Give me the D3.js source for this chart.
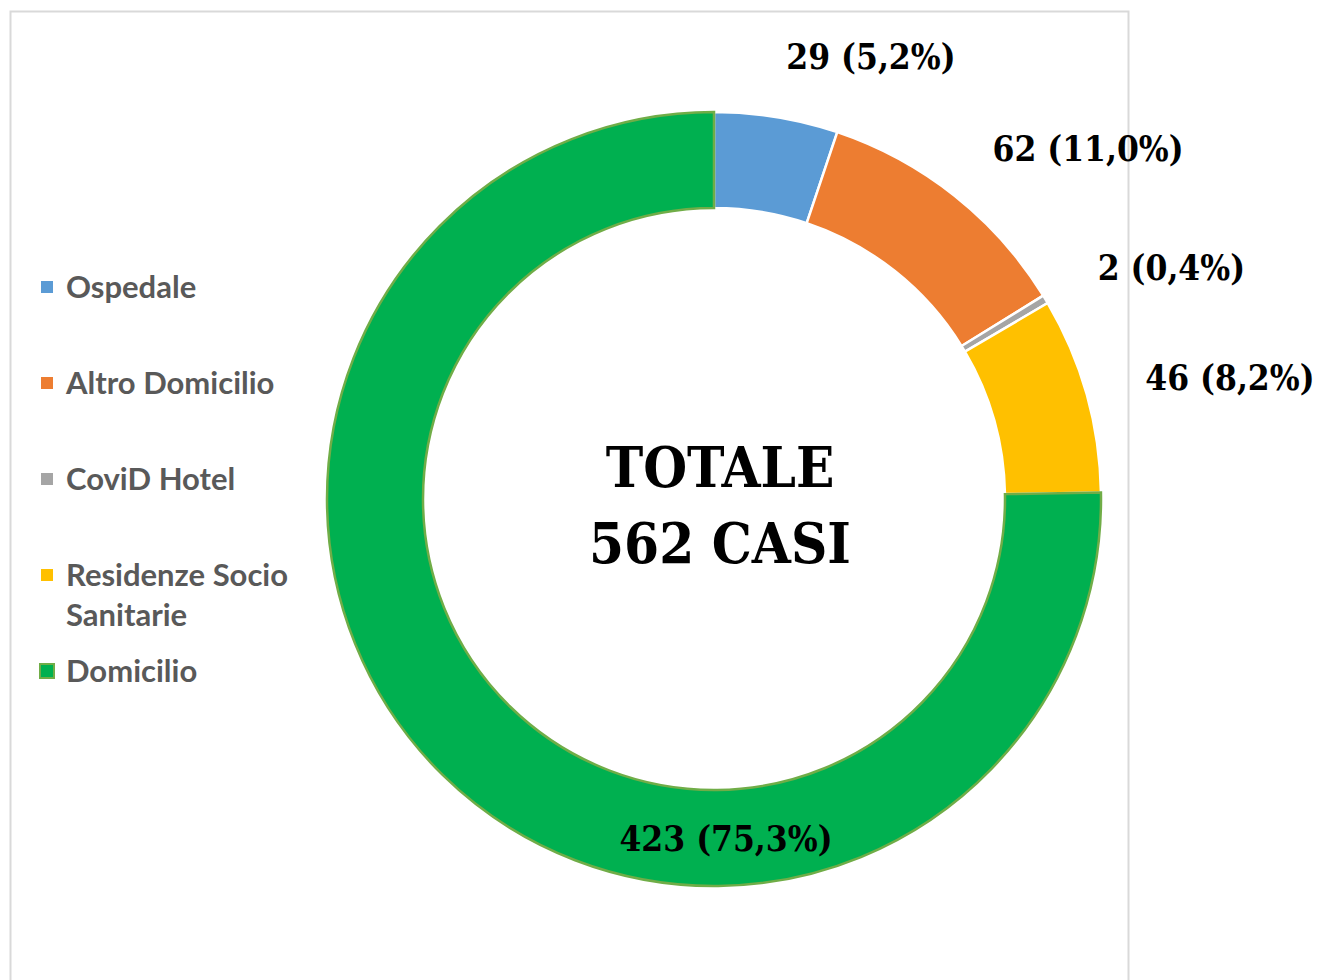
<!DOCTYPE html>
<html>
<head>
<meta charset="utf-8">
<script src="https://cdn.jsdelivr.net/npm/d3@7"></script>
<style>
  body { margin: 0; background: #fff; }
  .lbl { font-family: "DejaVu Serif Condensed", "DejaVu Serif", serif; font-weight: bold; fill: #000; }
  .leg { font-family: Lato, "Open Sans", sans-serif; font-weight: bold; fill: #595959; }
</style>
</head>
<body>
<svg id="chart" width="1329" height="980"></svg>
<script>
// data
var categories = ["Ospedale", "Altro Domicilio", "CoviD Hotel", "Residenze Socio Sanitarie", "Domicilio"];
var counts = [29, 62, 2, 46, 423];
var percents = ["5,2%", "11,0%", "0,4%", "8,2%", "75,3%"];
var colors = ["#5b9bd5", "#ed7d31", "#a5a5a5", "#ffc000", "#00b050"];
var totalLines = ["TOTALE", "562 CASI"];

var svg = d3.select("#chart");
var cx = 714, cy = 499,
    outerR = 387, innerR = 291;

// outer chart frame
svg.append("rect")
    .attr("x", 10.5).attr("y", 11.5)
    .attr("width", 1118).attr("height", 1000)
    .attr("fill", "none")
    .attr("stroke", "#d9d9d9")
    .attr("stroke-width", 2);

var data = categories.map(function(c, i) {
  return {name: c, value: counts[i], pct: percents[i], color: colors[i]};
});

var pie = d3.pie().sort(null).value(function(d) { return d.value; });
var arc = d3.arc().innerRadius(innerR).outerRadius(outerR);
var arcs = pie(data);

var g = svg.append("g").attr("transform", "translate(" + cx + "," + cy + ")");

// slices
g.selectAll("path.slice")
    .data(arcs)
  .enter().append("path")
    .attr("class", "slice")
    .attr("d", arc)
    .attr("fill", function(d) { return d.data.color; })
    .attr("stroke", function(d) { return d.data.name === "Domicilio" ? "#70ad47" : "#fff"; })
    .attr("stroke-width", 2.5)
    .attr("stroke-linejoin", "miter");

// labels: small slices outside (left anchored), big slice inside the ring at bottom
var outLabelArc = d3.arc().innerRadius(448).outerRadius(448);
var maxVal = d3.max(counts);
arcs.forEach(function(d) {
  var txt = d.data.value + " (" + d.data.pct + ")";
  var pos, anchor;
  if (d.data.value === maxVal) {
    pos = [12, (innerR + outerR) / 2];
    anchor = "middle";
  } else {
    pos = outLabelArc.centroid(d);
    anchor = "start";
  }
  g.append("text")
      .attr("class", "lbl")
      .attr("x", pos[0])
      .attr("y", pos[1])
      .attr("dy", "0.36em")
      .attr("text-anchor", anchor)
      .style("font-size", "35px")
      .text(txt);
});

// center text
g.selectAll("text.total")
    .data(totalLines)
  .enter().append("text")
    .attr("class", "lbl total")
    .attr("x", 6)
    .attr("y", function(d, i) { return -12 + i * 76; })
    .attr("text-anchor", "middle")
    .style("font-size", "56px")
    .text(function(d) { return d; });

// legend
var legY = [287, 383, 479, 575, 671];
var leg = svg.append("g");
data.forEach(function(d, i) {
  var isDom = d.name === "Domicilio";
  leg.append("rect")
      .attr("x", isDom ? 40 : 41)
      .attr("y", legY[i] - (isDom ? 7 : 6))
      .attr("width", isDom ? 14 : 12)
      .attr("height", isDom ? 14 : 12)
      .attr("fill", d.color)
      .attr("stroke", isDom ? "#70ad47" : "none")
      .attr("stroke-width", isDom ? 2 : 0);
  var words = d.name === "Residenze Socio Sanitarie" ? ["Residenze Socio", "Sanitarie"] : [d.name];
  words.forEach(function(w, j) {
    leg.append("text")
        .attr("class", "leg")
        .attr("x", 66)
        .attr("y", legY[i] + 11 + j * 40)
        .style("font-size", "31px")
        .text(w);
  });
});
</script>
</body>
</html>
